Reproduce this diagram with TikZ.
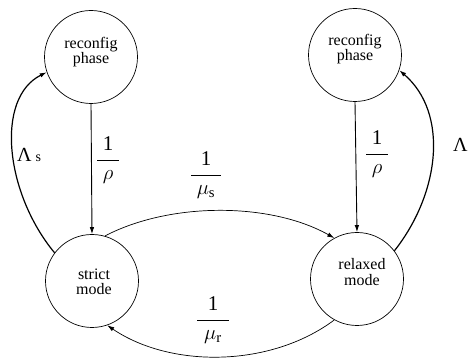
\documentclass[tikz,border=0pt]{standalone}
\usepackage{fontspec}
\setmainfont{Liberation Serif}
\usetikzlibrary{arrows.meta}
% rate label: a "1" over a denominator, the bar as wide as the given length
\newcommand{\ratefrac}[2]{{\fontsize{21}{24}\selectfont$\displaystyle\frac{\hbox to #2{\hss 1\hss}}{#1}$}}
\begin{document}
\begin{tikzpicture}[x=1pt,y=1pt,
  state/.style={draw, circle, minimum size=93pt, inner sep=0pt, line width=0.7pt},
  statetext/.style={align=center, font=\fontsize{16}{15.5}\selectfont, inner sep=0pt},
  rate/.style={inner sep=0pt, anchor=base},
  tip/.style={-{Latex[length=7pt,width=4.5pt]}},
  thinflow/.style={tip, line width=0.7pt},
  vertflow/.style={tip, line width=0.9pt},
  loopflow/.style={tip, line width=1.2pt}]
\useasboundingbox (0,0) rectangle (472,358);

% states
\node[state] (R1) at (91,301) {};
\node[state] (R2) at (355,303) {};
\node[state] (S)  at (92,77)  {};
\node[state] (X)  at (357,79) {};

\node[statetext] (R1t) at (91,306)  {reconfig\\phase};
\node[statetext] (R2t) at (355,309) {reconfig\\phase};
\node[statetext] (St)  at (94,76)   {strict\\mode};
\node[statetext] (Xt)  at (362,86)  {relaxed\\mode};

% reconfiguration finishes
\draw[vertflow] (R1.south) -- (S.north);
\draw[vertflow] (R2.south) -- (X.north);

% reconfiguration starts
\draw[loopflow] (S.143) .. controls (5,165) and (-5,260) .. (R1.199);
\draw[loopflow] (X.37) .. controls (440,165) and (449,245) .. (R2.341);

% switching between modes
\draw[thinflow] (S.74) .. controls (170,156) and (270,156) .. (X.119);
\draw[thinflow] (X.241) .. controls (270,-10) and (170,-10) .. (S.289);

% rates
\node[rate] (rho1) at (108,193) {\ratefrac{\rho}{22pt}};
\node[rate] (rho2) at (377,199) {\ratefrac{\rho}{22pt}};
\node[rate] (mus)  at (206,178) {\ratefrac{\mu_{\mathrm{s}}}{30pt}};
\node[rate] (mur)  at (213,33)  {\ratefrac{\mu_{\mathrm{r}}}{32pt}};

\node[inner sep=0pt, anchor=base west] (lam1) at (17,196)
  {{\fontsize{20}{20}\selectfont Λ}\hspace{4pt}{\fontsize{14}{14}\selectfont s}};
\node[inner sep=0pt, anchor=base west] (lam2) at (453,206)
  {{\fontsize{20}{20}\selectfont Λ}};
\end{tikzpicture}
\end{document}
